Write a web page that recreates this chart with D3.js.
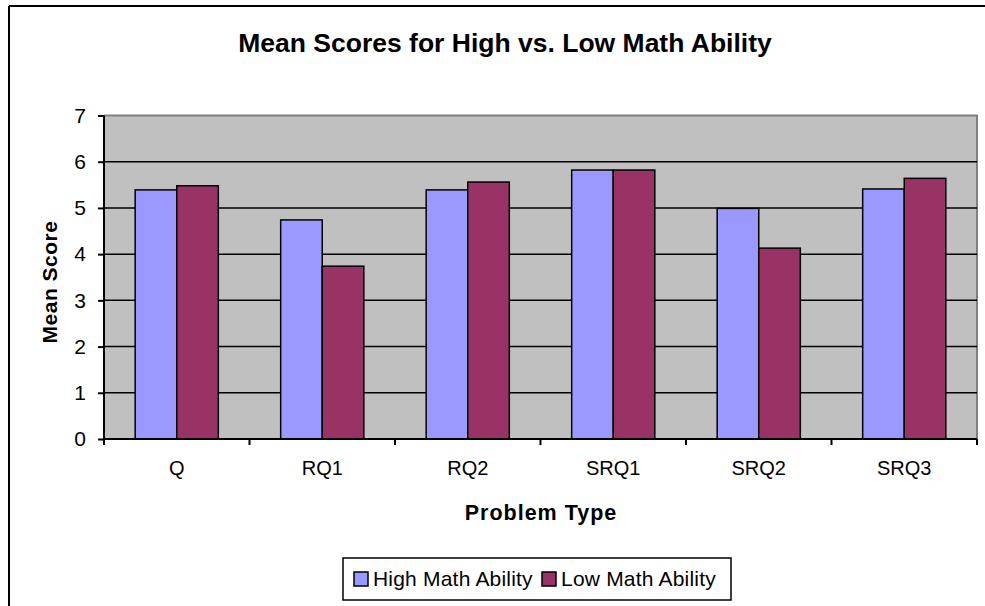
<!DOCTYPE html>
<html>
<head>
<meta charset="utf-8">
<script src="https://cdn.jsdelivr.net/npm/d3@7"></script>
<style>
  body { margin: 0; background: #fff; }
  text { font-family: "Liberation Sans", Arial, sans-serif; }
</style>
</head>
<body>
<svg id="chart"></svg>
<script>
const categories = ['Q', 'RQ1', 'RQ2', 'SRQ1', 'SRQ2', 'SRQ3'];
const seriesNames = ['High Math Ability', 'Low Math Ability'];
const highValues = [5.39, 4.74, 5.39, 5.82, 4.99, 5.41];
const lowValues = [5.48, 3.74, 5.56, 5.82, 4.13, 5.64];
const yTicks = [0, 1, 2, 3, 4, 5, 6, 7];
const colors = ['#9999ff', '#993366'];

const w = 985;
const h = 606;
const plot = { left: 104, top: 115.5, right: 977, bottom: 439 };

const svg = d3.select('#chart').attr('width', w).attr('height', h);

// outer chart frame (only top/left visible)
svg.append('line').attr('x1', 9).attr('x2', w).attr('y1', 6).attr('y2', 6)
  .attr('stroke', '#000').attr('stroke-width', 2);
svg.append('line').attr('x1', 9).attr('x2', 9).attr('y1', 6).attr('y2', h)
  .attr('stroke', '#000').attr('stroke-width', 2);

const x = d3.scaleBand().domain(categories).range([plot.left, plot.right]).paddingInner(0).paddingOuter(0);
const y = d3.scaleLinear().domain([0, 7]).range([plot.bottom, plot.top]);

const barW = x.bandwidth() / 3.5;
const xs = d3.scaleBand().domain(seriesNames).range([0, barW * 2]);

// plot background
svg.append('rect')
  .attr('x', plot.left).attr('y', plot.top)
  .attr('width', plot.right - plot.left).attr('height', plot.bottom - plot.top)
  .attr('fill', '#c0c0c0');
svg.append('path')
  .attr('d', `M${plot.left},${plot.top}H${plot.right}V${plot.bottom}`)
  .attr('fill', 'none').attr('stroke', '#808080').attr('stroke-width', 2);

// gridlines
svg.append('g').selectAll('line')
  .data(yTicks.filter(d => d > 0 && d < 7))
  .enter().append('line')
  .attr('x1', plot.left).attr('x2', plot.right)
  .attr('y1', d => y(d)).attr('y2', d => y(d))
  .attr('stroke', '#000').attr('stroke-width', 1.5);

// bars
const rows = categories.map((c, i) => ({ cat: c, values: [highValues[i], lowValues[i]] }));
const groups = svg.append('g').selectAll('g')
  .data(rows).enter().append('g')
  .attr('transform', d => `translate(${x(d.cat) + (x.bandwidth() - barW * 2) / 2},0)`);

groups.selectAll('rect')
  .data(d => d.values.map((v, j) => ({ name: seriesNames[j], v, j })))
  .enter().append('rect')
  .attr('x', d => xs(d.name))
  .attr('y', d => y(d.v))
  .attr('width', xs.bandwidth())
  .attr('height', d => y(0) - y(d.v))
  .attr('fill', d => colors[d.j])
  .attr('stroke', '#000').attr('stroke-width', 1.5);

// y axis
const yAxis = svg.append('g')
  .attr('transform', `translate(${plot.left},0)`)
  .call(d3.axisLeft(y).tickValues(yTicks).tickSize(6).tickPadding(12).tickFormat(d3.format('d')));
yAxis.select('.domain').attr('stroke', '#000').attr('stroke-width', 2)
  .attr('d', `M0,${plot.top}V${plot.bottom}`);
yAxis.selectAll('.tick line').attr('stroke', '#000').attr('stroke-width', 2);
yAxis.selectAll('.tick text').attr('font-size', 21).attr('fill', '#000');

// x axis
const xAxis = svg.append('g')
  .attr('transform', `translate(0,${plot.bottom})`)
  .call(d3.axisBottom(x).tickSize(0).tickPadding(22));
xAxis.select('.domain').attr('stroke', '#000').attr('stroke-width', 2)
  .attr('d', `M${plot.left},0H${plot.right}`);
xAxis.selectAll('.tick text').attr('font-size', 20).attr('fill', '#000');
xAxis.selectAll('line.sep')
  .data(categories.map(c => x(c)).concat([plot.right]))
  .enter().append('line').attr('class', 'sep')
  .attr('x1', d => d).attr('x2', d => d).attr('y1', 0).attr('y2', 6)
  .attr('stroke', '#000').attr('stroke-width', 2);

// titles
svg.append('text').attr('x', 505).attr('y', 52).attr('text-anchor', 'middle')
  .attr('font-size', 26.5).attr('font-weight', 'bold').text('Mean Scores for High vs. Low Math Ability');
svg.append('text').attr('x', 541).attr('y', 520).attr('text-anchor', 'middle')
  .attr('font-size', 21.5).attr('font-weight', 'bold').attr('letter-spacing', 1).text('Problem Type');
svg.append('text').attr('transform', 'translate(57,282) rotate(-90)').attr('text-anchor', 'middle')
  .attr('font-size', 21).attr('font-weight', 'bold').attr('letter-spacing', 0.5).text('Mean Score');

// legend
const legend = svg.append('g');
legend.append('rect').attr('x', 343).attr('y', 558).attr('width', 388).attr('height', 42)
  .attr('fill', '#fff').attr('stroke', '#000').attr('stroke-width', 1.5);
const legX = [354, 542];
seriesNames.forEach((name, i) => {
  legend.append('rect').attr('x', legX[i]).attr('y', 572).attr('width', 14).attr('height', 14)
    .attr('fill', colors[i]).attr('stroke', '#000').attr('stroke-width', 1.5);
  legend.append('text').attr('x', legX[i] + 19).attr('y', 586)
    .attr('font-size', 21).attr('letter-spacing', 0.2).text(name);
});
</script>
</body>
</html>
